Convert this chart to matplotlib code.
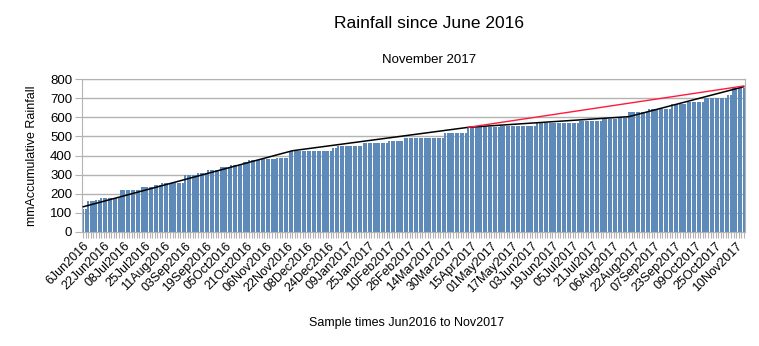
import numpy as np
import matplotlib
matplotlib.use("Agg")
import matplotlib.pyplot as plt

# cumulative rainfall (mm), stored as step levels and how many samples sit at each level
step_levels = [118, 161, 166, 175, 219, 236, 246, 254, 298, 306, 324, 338, 350, 368,
               376, 380, 385, 425, 438, 450, 464, 476, 490, 494, 520, 548, 552, 554,
               557, 572, 581, 592, 598, 627, 642, 669, 679, 700, 717, 753]
step_counts = [2, 3, 2, 8, 8, 5, 3, 9, 5, 4, 5, 4, 5, 2,
               5, 6, 5, 17, 2, 10, 10, 6, 7, 9, 9, 7, 6, 5,
               9, 17, 9, 6, 4, 8, 9, 6, 7, 9, 2, 5]

# sample labels shown on the axis (one every 8 samples)
date_labels = ["6Jun2016", "22Jun2016", "08Jul2016", "25Jul2016", "11Aug2016",
               "03Sep2016", "19Sep2016", "05Oct2016", "21Oct2016", "06Nov2016",
               "22Nov2016", "08Dec2016", "24Dec2016", "09Jan2017", "25Jan2017",
               "10Feb2017", "26Feb2017", "14Mar2017", "30Mar2017", "15Apr2017",
               "01May2017", "17May2017", "03Jun2017", "19Jun2017", "05Jul2017",
               "21Jul2017", "06Aug2017", "22Aug2017", "07Sep2017", "23Sep2017",
               "09Oct2017", "25Oct2017", "10Nov2017"]
LABEL_EVERY = 8

# trend lines: (sample index, mm)
black_idx = [0, 82, 151, 214, 259]
black_mm = [131, 425, 548, 604, 761]
red_idx = [151, 259]
red_mm = [548, 765]

rain = np.repeat(step_levels, step_counts)
n = len(rain)
x = np.arange(n)

plt.rcParams['font.family'] = ['Liberation Sans', 'DejaVu Sans']

fig = plt.figure(figsize=(7.59, 3.46), dpi=100)
ax = fig.add_axes([82 / 759, 1 - 231.7 / 346, (745 - 82) / 759, (231.7 - 79.3) / 346])

grid_col = '#b3b3b3'
ax.bar(x, rain, width=0.82, color='#5e8aba', edgecolor='none', zorder=2)
ax.plot(black_idx, black_mm, color='black', lw=1.1, zorder=3)
ax.plot(red_idx, red_mm, color='#ff1a3c', lw=1.0, zorder=3)

ax.set_xlim(-0.5, n - 0.5)
ax.set_ylim(0, 800)
ax.set_yticks(range(0, 801, 100))
ax.yaxis.grid(True, color=grid_col, lw=1.0, zorder=0)
ax.set_axisbelow(True)

ticklabels = [''] * n
for i, lab in enumerate(date_labels):
    ticklabels[i * LABEL_EVERY] = lab
ax.set_xticks(x)
ax.set_xticklabels(ticklabels, rotation=45, ha='right', rotation_mode='anchor', fontsize=9)
ax.tick_params(axis='x', length=4, width=0.8, color=grid_col, pad=2)
ax.tick_params(axis='y', length=5, width=0.8, color=grid_col, labelsize=9.5, pad=2)

for side in ['left', 'right', 'top', 'bottom']:
    ax.spines[side].set_color(grid_col)

ax.set_ylabel("mmAccumulative Rainfall", fontsize=9, labelpad=9)
fig.text(429 / 759, 1 - 24 / 346, "Rainfall since June 2016", ha='center', va='center', fontsize=12.5)
fig.text(429 / 759, 1 - 60 / 346, "November 2017", ha='center', va='center', fontsize=9.5)
fig.text(407 / 759, 1 - 323 / 346, "Sample times Jun2016 to Nov2017", ha='center', va='center', fontsize=9)

fig.savefig("out.png", dpi=100)
